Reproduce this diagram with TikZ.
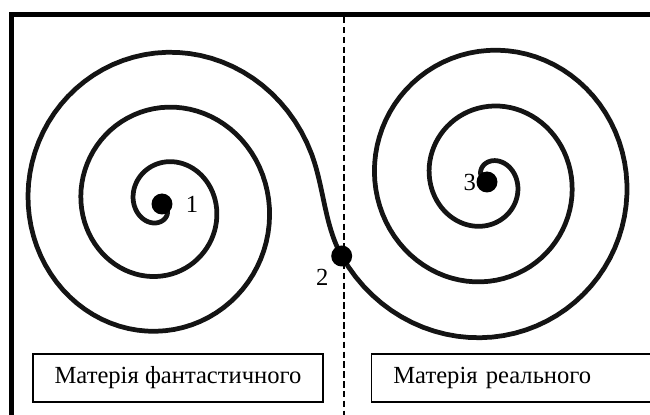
\documentclass[tikz,border=0pt]{standalone}
\usepackage{fontspec}
\setmainfont{Liberation Serif}
\usetikzlibrary{positioning}

\begin{document}
\begin{tikzpicture}[
    x=0.02cm, y=-0.02cm,
    frame/.style={line width=2.8pt},
    divider/.style={line width=1.2pt, dash pattern=on 3.7pt off 1.9pt},
    spiral/.style={line width=2.7pt, line cap=round, line join=round, black!92},
    dot/.style={circle, fill=black, inner sep=0pt, minimum size=0.42cm},
    num/.style={font=\fontsize{14}{16}\selectfont, inner sep=1pt},
    box/.style={draw, line width=0.8pt, minimum height=0.96cm, inner ysep=0pt,
                font=\fontsize{14}{16}\selectfont}
  ]
  \useasboundingbox (0,0) rectangle (650,415);
  \clip (0,0) rectangle (650,415);

  \coordinate (c1) at (162,204);
  \coordinate (c2) at (341.7,256);
  \coordinate (c3) at (487,182);

  % frame and dividing line
  \draw[frame] (11.5,430) -- (11.5,14.5) -- (670,14.5);
  \draw[divider] (343.7,17) -- (343.7,430);

  % double spiral through point 2
  \draw[spiral] plot[domain=-0.2:2.7, samples=240, variable=\t]
      ({162+(14.5+53*\t)*cos(90+360*\t)}, {205.5+(15.5+55*\t)*sin(90+360*\t)})
    .. controls (324,187.6) and (324.5,225.5) .. (c2)
    -- plot[domain=2.675:-0.2, samples=240, variable=\t]
      ({487+(16+55*\t)*cos(270+360*\t)}, {180+(17.5+56*\t)*sin(270+360*\t)});

  \node[dot, label={[num, label distance=0.22cm]right:1}] (d1) at (c1) {};
  \node[dot, label={[num, label distance=0.1cm]below left:2}] (d2) at (c2) {};
  \node[dot, label={[num, inner sep=0pt]left:3}] (d3) at (c3) {};

  \node[box, minimum width=5.8cm] (fant) at (178,378) {Матерія фантастичного};
  \node[box, right=0.94cm of fant, align=left, text width=5.3cm, inner xsep=0.44cm]
    (real) {Матерія реального};
\end{tikzpicture}
\end{document}
